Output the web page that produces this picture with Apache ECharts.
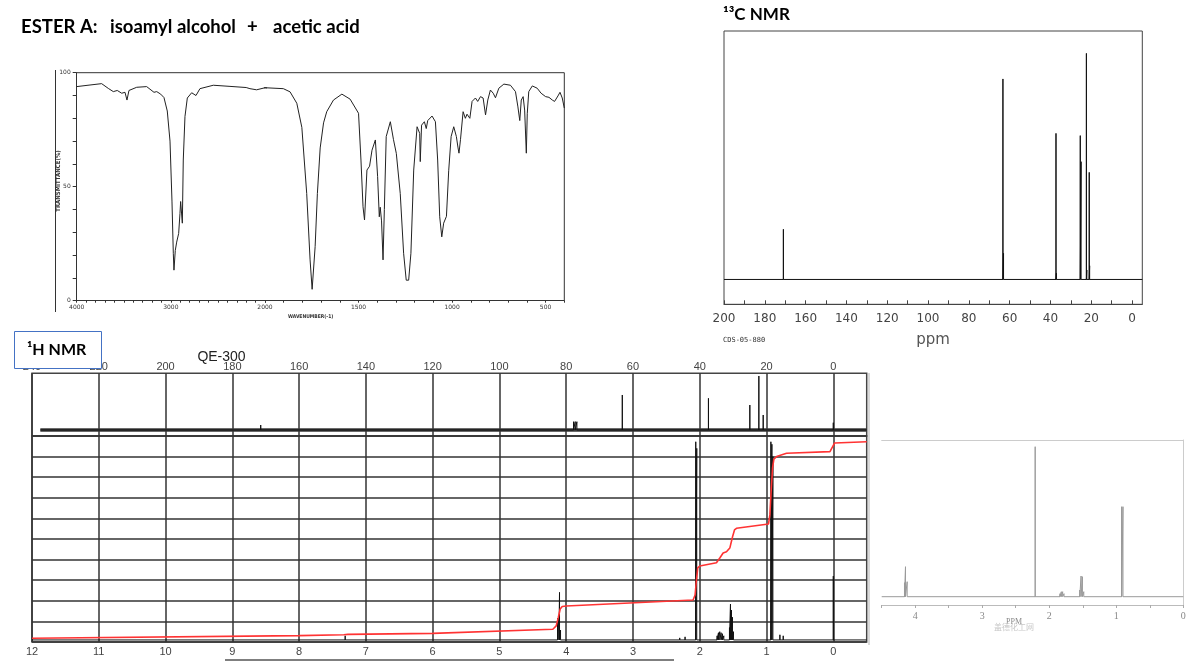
<!DOCTYPE html>
<html><head><meta charset="utf-8">
<script src="https://cdn.jsdelivr.net/npm/echarts@6/dist/echarts.min.js"></script>
<style>html,body{margin:0;padding:0;background:#fff}#c{width:1200px;height:671px}</style>
</head><body><div id="c"></div>
<script>
// ---------- IR spectrum (wavenumber cm-1, %T) ----------
const irWavenumber = [4000,3859,3735,3664,3611,3569,3522,3487,3466,3445,3363,3257,3179,3150,3108,3073,3038,3009,2988,2974,2967,2953,2938,2917,2903,2896,2885,2878,2868,2850,2825,2779,2733,2691,2549,2372,2200,2160,2089,2000,1902,1866,1830,1803,1777,1759,1748,1732,1720,1705,1687,1670,1634,1589,1545,1500,1487,1476,1468,1455,1441,1428,1410,1398,1389,1384,1377,1369,1362,1352,1330,1313,1298,1277,1259,1245,1232,1220,1205,1187,1173,1170,1163,1148,1138,1130,1107,1089,1077,1066,1055,1045,1030,1018,1005,991,977,968,963,955,941,929,920,905,893,875,863,848,834,821,809,795,780,768,750,723,688,661,648,638,630,620,612,603,598,590,571,545,524,500,482,464,452,434,423,411,400];
const irTransmittance = [93.9,94.6,95.2,93.1,91.7,92.2,91.0,91.4,88.0,92.2,93.6,93.9,91.4,91.7,90.6,89.1,83.2,70.0,43.7,20.8,13.4,22.0,25.7,29.5,38.3,43.5,42.8,34.0,61.7,80.8,88.9,91.2,90.0,93.0,94.5,94.0,93.5,93.0,92.5,93.4,93.0,91.6,86.6,76.0,47.0,17.9,5.0,23.7,47.0,67.0,78.0,82.9,88.0,90.6,88.4,82.2,61.7,41.2,35.4,57.3,59.0,66.0,70.5,54.4,36.8,41.0,35.0,17.9,40.0,72.0,78.5,70.6,64.6,47.0,20.8,9.0,9.0,20.8,57.3,76.3,73.4,61.0,77.0,78.5,75.5,79.0,81.0,78.5,61.7,36.8,28.0,34.0,37.0,57.0,72.0,76.3,72.0,67.0,64.7,70.6,82.9,80.0,81.8,80.0,87.4,88.9,87.4,89.5,88.9,81.5,88.0,92.4,91.0,89.0,93.2,95.0,94.5,91.7,85.0,79.0,88.0,89.5,83.6,64.7,82.0,91.7,94.2,93.2,91.0,89.5,89.2,88.0,87.4,89.8,91.4,88.9,84.5];
const irMajorLabels1 = [4000, 3000, 2000];
const irMajorLabels2 = [1500, 1000, 500];

// ---------- 13C NMR (CDS-05-880), ppm and relative height ----------
const c13Ppm = [170.9, 63.3, 63.0, 37.3, 37.1, 25.4, 25.0, 22.4, 22.2, 21.0, 20.8];
const c13Height = [20.2, 80.7, 10.5, 58.8, 2.5, 57.9, 47.4, 91.0, 3.8, 43.1, 5.5];
const c13TickValues = [0,10,20,30,40,50,60,70,80,90,100,110,120,130,140,150,160,170,180,190,200];
const c13LabelValues = [0,20,40,60,80,100,120,140,160,180,200];

// ---------- QE-300 : 13C strip on top ----------
const qeCPpm = [171.5, 77.8, 77.3, 76.8, 63.2, 37.4, 25.0, 22.3, 21.0, 0.0];
const qeCHeight = [1.75, 2.28, 2.3, 2.28, 6.54, 6.01, 4.94, 9.57, 3.35, 2.12];
const qeCLabels = [0,20,40,60,80,100,120,140,160,180,200,220,240];

// ---------- QE-300 : 1H spectrum ----------
const qeHPpm = [7.31, 4.13, 4.11, 4.10, 4.085, 2.30, 2.22, 2.06, 2.045, 1.74, 1.72, 1.70, 1.68, 1.66, 1.64, 1.555, 1.54, 1.525, 1.51, 1.495, 0.935, 0.92, 0.905, 0.80, 0.75, 0.0];
const qeHHeight = [0.3, 1.15, 1.31, 2.41, 0.58, 0.2, 0.25, 9.72, 9.4, 0.3, 0.45, 0.5, 0.45, 0.4, 0.3, 0.7, 1.84, 1.55, 1.2, 0.5, 9.72, 9.6, 9.0, 0.35, 0.3, 3.2];
const qeHLabels = [0,1,2,3,4,5,6,7,8,9,10,11,12];
// integration curve
const qeIntPpm = [12, 8, 7.33, 7.27, 6, 4.2, 4.15, 4.12, 4.09, 4.06, 4.0, 2.1, 2.07, 2.05, 2.03, 2.0, 1.75, 1.7, 1.65, 1.6, 1.55, 1.51, 1.48, 1.45, 0.97, 0.95, 0.93, 0.91, 0.89, 0.85, 0.7, 0.05, 0.02, -0.02, -0.5];
const qeIntValue = [0.18, 0.31, 0.35, 0.37, 0.42, 0.62, 0.78, 1.17, 1.6, 1.72, 1.75, 2.04, 2.28, 3.0, 3.6, 3.69, 3.85, 4.08, 4.32, 4.38, 4.56, 5.1, 5.44, 5.52, 5.73, 6.17, 7.38, 8.45, 8.88, 9.0, 9.16, 9.24, 9.42, 9.66, 9.72];

// ---------- small 1H spectrum (bottom right) ----------
const smHPpm = [4.16, 4.145, 4.12, 2.21, 1.84, 1.82, 1.80, 1.78, 1.545, 1.525, 1.505, 1.485, 0.92, 0.90];
const smHHeight = [22.3, 38.3, 23.3, 158.3, 11.3, 13.3, 13.3, 11.3, 15, 29, 28.3, 13.3, 98.3, 98.3];
const smHLabels = [0, 1, 2, 3, 4];

// build stick spectra from peak lists
function sticks(ppm, h, base, start, end) {
  const pts = [[start, base]];
  for (let i = 0; i < ppm.length; i++) {
    pts.push([ppm[i], base], [ppm[i], h[i]], [ppm[i], base]);
  }
  pts.push([end, base]);
  return pts;
}
const zip = (a, b) => a.map((v, i) => [v, b[i]]);

const irData = zip(irWavenumber, irTransmittance);
const c13Data = sticks(c13Ppm, c13Height, 0, 200, -5);
const qeCData = sticks(qeCPpm, qeCHeight, 0.96, 237.5, -10);
const qeHData = sticks(qeHPpm, qeHHeight, 0.1, 12, -0.5);
const qeIntData = zip(qeIntPpm, qeIntValue);
const smHData = sticks(smHPpm, smHHeight, 8.3, 4.5, 0);

const GRID = '#333';
const tiny = {fontFamily: 'DejaVu Sans', fontSize: 6, color: '#333'};
const T = (x, y, text, font, fill, align, extra) => Object.assign({
  type: 'text', x, y,
  style: {text, font, fill, align: align || 'left', verticalAlign: 'middle', textAlign: align || 'left', textVerticalAlign: 'middle'}
}, extra || {});

const chart = echarts.init(document.getElementById('c'), null, {renderer: 'canvas'});
chart.setOption({
  animation: false,
  backgroundColor: '#fff',
  grid: [
    {left: 76.7, top: 72.7, width: 188.3, height: 228, outerBoundsMode: 'none'},
    {left: 265, top: 72.7, width: 299.3, height: 228, outerBoundsMode: 'none'},
    {left: 724, top: 31, width: 418.3, height: 273.3, show: true, borderColor: '#444', borderWidth: 1, outerBoundsMode: 'none'},
    {left: 32, top: 373.3, width: 834.7, height: 62.7, show: true, borderColor: '#444', borderWidth: 1.5, outerBoundsMode: 'none'},
    {left: 32, top: 436, width: 834.7, height: 206, show: true, borderColor: '#444', borderWidth: 1.5, outerBoundsMode: 'none'},
    {left: 881.7, top: 440, width: 301.6, height: 165, outerBoundsMode: 'none'}
  ],
  xAxis: [
    {gridIndex: 0, type: 'value', min: 2000, max: 4000, inverse: true, interval: 100,
      axisLine: {show: true, onZero: false, lineStyle: {color: GRID, width: 1}},
      axisTick: {show: true, length: 2, lineStyle: {color: GRID}},
      axisLabel: {...tiny, margin: 4, showMinLabel: true, showMaxLabel: true,
        formatter: v => irMajorLabels1.includes(v) ? String(v) : ''},
      splitLine: {show: false}},
    {gridIndex: 1, type: 'value', min: 400, max: 2000, inverse: true, interval: 100,
      axisLine: {show: true, onZero: false, lineStyle: {color: GRID, width: 1}},
      axisTick: {show: true, length: 2, lineStyle: {color: GRID}},
      axisLabel: {...tiny, margin: 4, formatter: v => irMajorLabels2.includes(v) ? String(v) : ''},
      splitLine: {show: false}},
    {gridIndex: 2, type: 'value', min: -5, max: 200, inverse: true,
      axisLine: {show: true, onZero: false, lineStyle: {color: '#444'}},
      axisTick: {show: true, inside: true, length: 4, customValues: c13TickValues, lineStyle: {color: '#444'}},
      axisLabel: {customValues: c13LabelValues, fontFamily: 'DejaVu Sans', fontSize: 12, color: '#444', margin: 9},
      splitLine: {show: false}},
    {gridIndex: 3, type: 'value', min: -10, max: 240, inverse: true, position: 'top',
      axisLine: {show: false, onZero: false},
      axisTick: {show: false, customValues: qeCLabels},
      axisLabel: {customValues: qeCLabels, fontFamily: 'Liberation Sans', fontSize: 11, color: '#444', margin: 1},
      splitLine: {show: true, lineStyle: {color: '#333', width: 1.5}}},
    {gridIndex: 4, type: 'value', min: -0.5, max: 12, inverse: true,
      axisLine: {show: false, onZero: false},
      axisTick: {show: false, customValues: qeHLabels},
      axisLabel: {customValues: qeHLabels, fontFamily: 'Liberation Sans', fontSize: 11, color: '#444', margin: 4},
      splitLine: {show: true, lineStyle: {color: '#333', width: 1.5}}},
    {gridIndex: 5, type: 'value', min: 0, max: 4.5, inverse: true, interval: 0.5,
      axisLine: {show: true, onZero: false, lineStyle: {color: '#bbb'}},
      axisTick: {show: true, length: 3, lineStyle: {color: '#aaa'}},
      axisLabel: {fontFamily: 'Liberation Serif', fontSize: 10, color: '#888', margin: 6,
        formatter: v => smHLabels.includes(v) ? String(v) : ''},
      splitLine: {show: false}},
    {gridIndex: 5, type: 'value', min: 0, max: 4.5, inverse: true, position: 'top',
      axisLine: {show: true, onZero: false, lineStyle: {color: '#ccc'}},
      axisTick: {show: false}, axisLabel: {show: false}, splitLine: {show: false}}
  ],
  yAxis: [
    {gridIndex: 0, type: 'value', min: 0, max: 100, interval: 10,
      axisLine: {show: true, onZero: false, lineStyle: {color: GRID, width: 1}},
      axisTick: {show: true, length: 4, lineStyle: {color: GRID}},
      axisLabel: {...tiny, margin: 6, formatter: v => (v % 50 === 0 ? String(v) : '')},
      splitLine: {show: false}},
    {gridIndex: 1, type: 'value', min: 0, max: 100, show: false},
    {gridIndex: 2, type: 'value', min: -10, max: 100, show: false},
    {gridIndex: 3, type: 'value', min: 0, max: 10, show: false},
    {gridIndex: 4, type: 'value', min: 0, max: 10, interval: 1,
      axisLine: {show: false}, axisTick: {show: false}, axisLabel: {show: false},
      splitLine: {show: true, lineStyle: {color: '#333', width: 1.5}}},
    {gridIndex: 5, type: 'value', min: 0, max: 165, position: 'right',
      axisLine: {show: true, onZero: false, lineStyle: {color: '#ccc'}},
      axisTick: {show: false}, axisLabel: {show: false}, splitLine: {show: false}}
  ],
  series: [
    {type: 'line', xAxisIndex: 0, yAxisIndex: 0, data: irData, showSymbol: false, clip: true,
      lineStyle: {color: '#222', width: 1}},
    {type: 'line', xAxisIndex: 1, yAxisIndex: 1, data: irData, showSymbol: false, clip: true,
      lineStyle: {color: '#222', width: 1}},
    {type: 'line', xAxisIndex: 2, yAxisIndex: 2, data: c13Data, showSymbol: false, clip: true,
      lineStyle: {color: '#111', width: 1}},
    {type: 'line', xAxisIndex: 3, yAxisIndex: 3, data: [[237.5, 0.96], [-10, 0.96]], showSymbol: false, clip: true,
      lineStyle: {color: '#3a3a3a', width: 3.5}},
    {type: 'line', xAxisIndex: 3, yAxisIndex: 3, data: qeCData, showSymbol: false, clip: true,
      lineStyle: {color: '#111', width: 1}},
    {type: 'line', xAxisIndex: 4, yAxisIndex: 4, data: qeHData, showSymbol: false, clip: true,
      lineStyle: {color: '#111', width: 1}},
    {type: 'line', xAxisIndex: 4, yAxisIndex: 4, data: qeIntData, showSymbol: false, clip: true,
      lineStyle: {color: '#ff3333', width: 1.6}},
    {type: 'line', xAxisIndex: 5, yAxisIndex: 5, data: smHData, showSymbol: false, clip: true,
      lineStyle: {color: '#9a9a9a', width: 1}}
  ],
  graphic: [
    T(21, 27, 'ESTER A:', 'bold 18.5px Lato', '#000'),
    T(110, 27, 'isoamyl alcohol', 'bold 18.5px Lato', '#000'),
    T(247, 27, '+', 'bold 18.5px Lato', '#000'),
    T(273, 27, 'acetic acid', 'bold 18.5px Lato', '#000'),
    T(723, 15, '¹³C NMR', 'bold 17px Lato', '#000'),
    // IR frame (top + right) and outer axis line
    {type: 'polyline', shape: {points: [[76.7, 72.7], [564.3, 72.7], [564.3, 300.7]]}, style: {stroke: '#333', lineWidth: 1, fill: null}},
    {type: 'line', shape: {x1: 55.5, y1: 70, x2: 55.5, y2: 312}, style: {stroke: '#333', lineWidth: 1}},
    T(58, 181, 'TRANSMITTANCE(%)', 'bold 6px DejaVu Sans Condensed', '#333', 'center', {rotation: Math.PI / 2}),
    T(288, 317, 'WAVENUMBER(-1)', 'bold 5px DejaVu Sans Condensed', '#333'),
    // 13C labels
    T(723, 340, 'CDS-05-880', '7px DejaVu Sans Mono', '#333'),
    T(933, 340, 'ppm', '15px DejaVu Sans', '#555', 'center'),
    // QE-300
    T(221.5, 357, 'QE-300', '14px Liberation Sans', '#222', 'center'),
    {type: 'rect', z: 100, shape: {x: 14.5, y: 331.5, width: 87, height: 37}, style: {fill: '#fff', stroke: '#4472c4', lineWidth: 1}},
    T(27, 350, '¹H NMR', 'bold 16px Lato', '#000', 'left', {z: 101}),
    {type: 'line', shape: {x1: 869, y1: 373, x2: 869, y2: 645}, style: {stroke: '#ccc', lineWidth: 1.5}},
    {type: 'line', shape: {x1: 225, y1: 660, x2: 674, y2: 660}, style: {stroke: '#555', lineWidth: 1.5}},
    // small 1H labels
    T(1014, 622, 'PPM', '8px Liberation Serif', '#888', 'center'),
    T(1014, 627, '盖德化工网', '8px Noto Sans CJK SC', '#c8c8c8', 'center')
  ]
});
</script></body></html>
